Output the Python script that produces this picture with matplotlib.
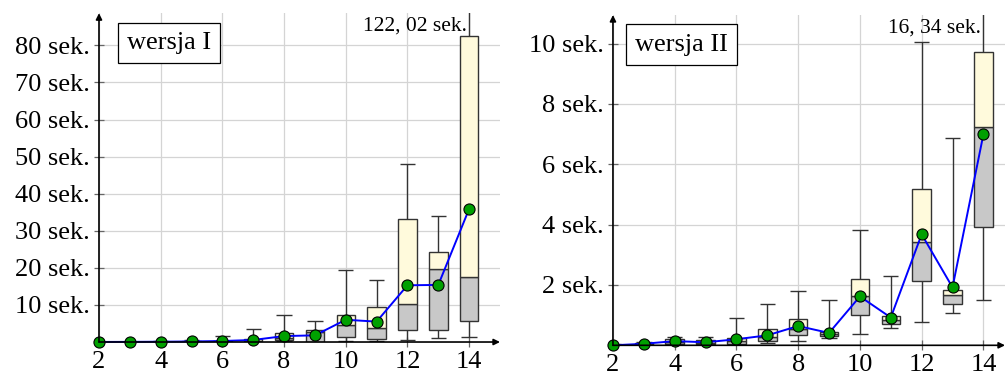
import numpy as np
import matplotlib.pyplot as plt
plt.rc('font', family='Liberation Serif', size=19)

# liczba zmiennych (os x)
n = [2, 3, 4, 5, 6, 7, 8, 9, 10, 11, 12, 13, 14]

# wersja I (sekundy)
mean1 = [0.02, 0.04, 0.08, 0.15, 0.27, 0.55, 1.6, 1.8, 6.0, 5.5, 15.3, 15.4, 35.9]
q1_1 = [0.01, 0.02, 0.03, 0.05, 0.1, 0.2, 0.5, 0.1, 1.4, 0.7, 3.2, 3.3, 5.7]
med1 = [0.02, 0.03, 0.05, 0.08, 0.2, 0.4, 1.1, 2.7, 4.5, 3.9, 10.2, 19.7, 17.6]
q3_1 = [0.03, 0.05, 0.08, 0.15, 0.4, 0.9, 2.3, 3.15, 7.4, 9.4, 33.2, 24.3, 82.5]
lo1 = [0.0, 0.01, 0.01, 0.02, 0.05, 0.1, 0.2, 0.05, 0.35, 0.3, 0.5, 1.0, 1.3]
hi1 = [0.05, 0.1, 0.2, 0.5, 1.6, 3.6, 7.2, 5.6, 19.4, 16.6, 48.0, 34.0, 122.02]

# wersja II (sekundy)
mean2 = [0.0, 0.05, 0.14, 0.10, 0.20, 0.33, 0.64, 0.41, 1.62, 0.92, 3.68, 1.92, 6.99]
q1_2 = [0.0, 0.02, 0.05, 0.04, 0.05, 0.13, 0.33, 0.30, 1.02, 0.70, 2.14, 1.38, 3.93]
med2 = [0.01, 0.04, 0.12, 0.08, 0.15, 0.29, 0.53, 0.38, 1.64, 0.84, 3.43, 1.66, 7.25]
q3_2 = [0.02, 0.07, 0.22, 0.16, 0.25, 0.53, 0.88, 0.45, 2.21, 0.96, 5.18, 1.83, 9.74]
lo2 = [0.0, 0.01, 0.02, 0.01, 0.02, 0.07, 0.15, 0.24, 0.37, 0.56, 0.78, 1.07, 1.49]
hi2 = [0.03, 0.10, 0.27, 0.29, 0.90, 1.38, 1.81, 1.50, 3.82, 2.30, 10.04, 6.87, 16.34]

BOX_W = 0.6
CAP_W = 0.5
YELLOW = "#fffadc"
GREY = "#c8c8c8"
EDGE = "#333333"


def panel(ax, mean, q1, med, q3, lo, hi, xmax, ymax, yticks, title, maxlabel):
  x = np.array(n)
  ax.set_xlim(2, xmax)
  ax.set_ylim(0, ymax)

  ax.bar(x, np.array(med) - np.array(q1), BOX_W, bottom=q1, color=GREY,
         edgecolor=EDGE, linewidth=1, zorder=3)
  ax.bar(x, np.array(q3) - np.array(med), BOX_W, bottom=med, color=YELLOW,
         edgecolor=EDGE, linewidth=1, zorder=3)
  ax.vlines(x, q3, hi, color=EDGE, linewidth=1, zorder=2)
  ax.vlines(x, lo, q1, color=EDGE, linewidth=1, zorder=2)
  ax.hlines(hi, x - CAP_W / 2, x + CAP_W / 2, color=EDGE, linewidth=1, zorder=2)
  ax.hlines(lo, x - CAP_W / 2, x + CAP_W / 2, color=EDGE, linewidth=1, zorder=2)

  ax.plot(x, mean, color="#0000ff", linewidth=1.4, marker="o", markersize=8,
          markerfacecolor="#00a000", markeredgecolor="black",
          markeredgewidth=0.8, zorder=5, clip_on=False)

  ax.set_xticks([2, 4, 6, 8, 10, 12, 14])
  ax.set_yticks(yticks)
  ax.set_yticklabels(["{} sek.".format(v) for v in yticks])
  ax.grid(True, color="#d4d4d4", linewidth=0.9, zorder=0)
  ax.set_axisbelow(True)
  ax.tick_params(direction="inout", length=7, color="#666666", width=0.9,
                 pad=3)
  for s in ax.spines.values():
    s.set_visible(False)
  ax.annotate("", xy=(1, 0), xytext=(0, 0), xycoords="axes fraction",
              arrowprops=dict(arrowstyle="-|>", color="black", lw=1.2,
                              mutation_scale=9, shrinkA=0, shrinkB=0),
              zorder=6)
  ax.annotate("", xy=(0, 1), xytext=(0, 0), xycoords="axes fraction",
              arrowprops=dict(arrowstyle="-|>", color="black", lw=1.2,
                              mutation_scale=9, shrinkA=0, shrinkB=0),
              zorder=6)

  ax.text(0.175, 0.91, title, transform=ax.transAxes, ha="center",
          va="center", bbox=dict(boxstyle="square,pad=0.35", fc="white",
                                 ec="black", lw=0.9), zorder=7)
  ax.text(13.92, ymax * 0.962, maxlabel, ha="right", va="center", size=15.5,
          zorder=7)


figure = plt.figure(figsize=(10.06, 3.78), dpi=100)
axes1 = figure.add_axes([0.0984, 0.0952, 0.3986, 0.870])
axes2 = figure.add_axes([0.6093, 0.0865, 0.3897, 0.8738])

panel(axes1, mean1, q1_1, med1, q3_1, lo1, hi1, 15.0, 88.7,
      [10, 20, 30, 40, 50, 60, 70, 80], "wersja I", "122, 02 sek.")
panel(axes2, mean2, q1_2, med2, q3_2, lo2, hi2, 14.7, 10.95,
      [2, 4, 6, 8, 10], "wersja II", "16, 34 sek.")

figure.patch.set_facecolor("white")
plt.savefig("out.png", dpi=100)
